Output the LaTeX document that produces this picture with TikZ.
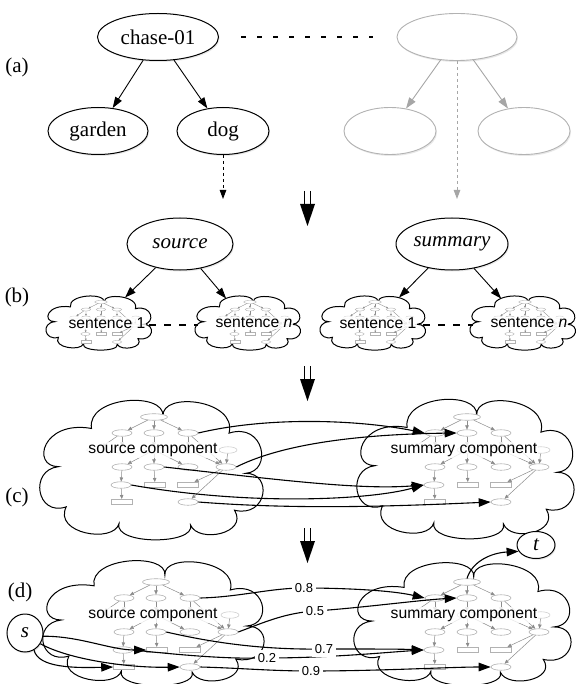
\documentclass[tikz,border=0pt]{standalone}
\usepackage{fontspec}
\setmainfont{Liberation Serif}
\setsansfont{Liberation Sans}
\usetikzlibrary{shapes.geometric,arrows.meta,shadows}

\tikzset{
  soft/.style={drop shadow={opacity=0.18, shadow xshift=1pt, shadow yshift=-1.5pt}},
  amrnode/.style={ellipse, draw, line width=1pt, fill=white, inner sep=0pt,
    font=\fontsize{21}{25}\selectfont, soft},
  ghost/.style={ellipse, draw=black!30, line width=0.9pt, fill=white, inner sep=0pt, soft},
  arr/.style={line width=0.9pt, -{Triangle[length=11pt,width=7.5pt]}},
  garr/.style={draw=black!35, line width=0.9pt, -{Triangle[length=11pt,width=7.5pt, fill=black!35]}},
  bigarr/.style={line width=1.1pt, -{Triangle[length=12pt,width=8.5pt]}},
  cloudline/.style={draw, line width=1pt, fill=white},
  comp/.style={font=\sffamily\fontsize{15.7}{18}\selectfont, fill=white, fill opacity=0.8,
    text opacity=1, inner sep=1pt},
  lbl/.style={font=\sffamily\fontsize{13}{15}\selectfont, fill=white, inner sep=3pt},
  tag/.style={font=\fontsize{21}{25}\selectfont},
  mnode/.style={ellipse, draw=black!30, line width=0.6pt, fill=white,
    minimum width=20pt, minimum height=6.5pt, inner sep=0pt},
  mrect/.style={rectangle, draw=black!30, line width=0.6pt, fill=white,
    minimum width=21pt, minimum height=5.5pt, inner sep=0pt},
  marr/.style={draw=black!45, line width=0.5pt, -{Triangle[length=4pt,width=3.5pt]}},
  smallgraph/.style={scale=0.47, transform shape,
    marr/.style={draw=black!45, line width=0.35pt, -{Triangle[length=2pt,width=1.8pt]}},
    mnode/.append style={line width=0.4pt}, mrect/.append style={line width=0.4pt}},
  % cloud outline in a unit box (x and y from -1 to 1, y pointing down)
  puffcloud/.pic={
    \path[cloudline] (-0.85,-0.05)
      .. controls (-1.10,-0.05) and (-1.00,-0.75) .. (-0.55,-0.62)
      .. controls (-0.60,-1.10) and (0.12,-1.18) .. (0.10,-0.80)
      .. controls (0.08,-1.18) and (0.78,-1.05) .. (0.70,-0.55)
      .. controls (1.02,-0.72) and (1.10,0.02) .. (0.85,0.05)
      .. controls (1.10,0.04) and (1.05,0.72) .. (0.75,0.60)
      .. controls (0.88,0.95) and (0.42,1.10) .. (0.35,0.82)
      .. controls (0.40,1.12) and (-0.35,1.12) .. (-0.30,0.80)
      .. controls (-0.35,1.10) and (-0.90,0.95) .. (-0.78,0.55)
      .. controls (-1.05,0.70) and (-1.12,0.00) .. (-0.85,-0.05) -- cycle;
    \coordinate (-ne) at (0.50,-0.98);
    \coordinate (-nw) at (-0.42,-0.94);
    \coordinate (-e) at (0.85,0.08);
    \coordinate (-w) at (-0.85,0.08);
  },
  % small AMR graph drawn inside every cloud
  amr/.pic={
    \node[mnode, minimum width=27pt] (-T) at (0,0) {};
    \node[mnode] (-A) at (-32,16) {};
    \node[mnode] (-B) at (0,16) {};
    \node[mnode] (-C) at (34,16) {};
    \node[mnode, draw=black!15] (-L) at (-57,33) {};
    \node[mnode] (-M1) at (-32,33) {};
    \node[mnode] (-M2) at (0,33) {};
    \node[mnode] (-M3) at (34,33) {};
    \node[mnode, draw=black!18, minimum width=18pt] (-R) at (74,33) {};
    \node[mnode] (-D1) at (-32,50) {};
    \node[mnode] (-D2) at (0,50) {};
    \node[mnode] (-D3) at (34,50) {};
    \node[mnode] (-D4) at (72,50) {};
    \node[mnode] (-E1) at (-33,68) {};
    \node[mrect] (-E2) at (1,68) {};
    \node[mrect] (-E3) at (34,68) {};
    \node[mrect] (-F1) at (-32,85) {};
    \node[mnode] (-F2) at (34,85) {};
    \foreach \a/\b in {T/A,T/B,T/C,A/L,A/M1,B/M2,C/M3,C/D4,M3/D4,R/D4,M2/D1,M2/D2,M2/D3,
                       D1/E1,D2/E2,D4/E3,D4/F2,E1/F1}
      \draw[marr] (-\a) -- (-\b);
  },
  % double-shaft arrow between the stages
  dblarrow/.pic={
    \draw[line width=1.2pt] (-3.2,0) -- (-3.2,14) (3.2,0) -- (3.2,14);
    \fill (-7.5,13) -- (7.5,13) -- (0,35) -- cycle;
  }
}

\begin{document}
\begin{tikzpicture}[x=1pt, y=-1pt]
\useasboundingbox (0,0) rectangle (576,684);

% ---------- (a) ----------
\node[tag] (la) at (17,67) {(a)};
\node[amrnode, minimum width=121pt, minimum height=47pt] (chase) at (158,37) {chase-01};
\node[amrnode, minimum width=100pt, minimum height=47pt] (garden) at (98,131) {garden};
\node[amrnode, minimum width=92pt, minimum height=47pt] (dog) at (223,131) {dog};
\node[ghost, minimum width=120pt, minimum height=47pt] (g0) at (457,37) {};
\node[ghost, minimum width=92pt, minimum height=47pt] (g1) at (390,131) {};
\node[ghost, minimum width=92pt, minimum height=47pt] (g2) at (524,131) {};
\draw[arr] (chase) -- (garden);
\draw[arr] (chase) -- (dog);
\draw[garr] (g0) -- (g1);
\draw[garr] (g0) -- (g2);
\draw[line width=2.2pt, dash pattern=on 4.5pt off 11.5pt, shorten <=22pt, shorten >=24pt]
  (chase) -- (g0);
\coordinate (dogend) at (223,199);
\coordinate (gend) at (457,199);
\draw[arr, dashed, -{Triangle[length=9pt,width=6.5pt]}] (dog.south) -- (dogend);
\draw[garr, dashed, -{Triangle[length=9pt,width=6.5pt, fill=black!35]}] (g0.south) -- (gend);

\pic at (307.5,191) {dblarrow};

% ---------- (b) ----------
\node[tag] (lb) at (17,297) {(b)};
\node[amrnode, font=\itshape\fontsize{21}{25}\selectfont, minimum width=106pt, minimum height=52pt]
  (src) at (180,244) {source};
\node[amrnode, font=\itshape\fontsize{21}{25}\selectfont, minimum width=112pt, minimum height=52pt]
  (summ) at (452,244) {summary};

\pic[xscale=52, yscale=26] (s1) at (99,323) {puffcloud};
\pic[xscale=52, yscale=26] (sn) at (248,323) {puffcloud};
\pic[xscale=52, yscale=26] (t1) at (373,323) {puffcloud};
\pic[xscale=52, yscale=26] (tn) at (523,323) {puffcloud};
\pic[smallgraph] (s1g) at (101,302) {amr};
\pic[smallgraph] (sng) at (250,302) {amr};
\pic[smallgraph] (t1g) at (375,302) {amr};
\pic[smallgraph] (tng) at (525,302) {amr};
\node[comp] (s1txt) at (107,323) {sentence 1};
\node[comp] (sntxt) at (254,323) {sentence \textit{n}};
\node[comp] (t1txt) at (378,323) {sentence 1};
\node[comp] (tntxt) at (529,323) {sentence \textit{n}};

\draw[arr] (src) -- (s1-ne);
\draw[arr] (src) -- (sn-nw);
\draw[arr] (summ) -- (t1-ne);
\draw[arr] (summ) -- (tn-nw);
\draw[line width=1.6pt, dash pattern=on 7pt off 8pt, shorten <=6pt, shorten >=6pt] (s1-e) -- (sn-w);
\draw[line width=1.6pt, dash pattern=on 7pt off 8pt, shorten <=6pt, shorten >=6pt] (t1-e) -- (tn-w);

\pic at (307.5,366) {dblarrow};

% ---------- (c) ----------
\node[tag] (lc) at (17,497) {(c)};
\pic[xscale=110, yscale=67] (cl) at (152,470) {puffcloud};
\pic[xscale=107, yscale=67] (cr) at (466,469) {puffcloud};
\pic (csrc) at (154,417) {amr};
\pic (csum) at (467,417) {amr};
\node[comp] (ctl) at (153,450) {source component};
\node[comp] (ctr) at (464,450) {summary component};

\draw[bigarr] (csrc-C.east) .. controls (270,416) and (360,420) .. (csum-A.west);
\draw[bigarr] (csrc-D4.east) .. controls (290,440) and (380,434) .. (csum-B.west);
\draw[bigarr] (csrc-D2.east) .. controls (280,480) and (360,490) .. (csum-E1.west);
\draw[bigarr] (csrc-E1.east) .. controls (250,506) and (370,500) .. (csum-E1.west);
\draw[bigarr] (csrc-F2.east) .. controls (300,510) and (400,506) .. (csum-F2.west);

\pic at (307.5,528) {dblarrow};

% ---------- (d) ----------
\node[tag] (ld) at (20,592) {(d)};
\pic[xscale=109, yscale=60] (dl) at (154,623) {puffcloud};
\pic[xscale=107, yscale=59] (dr) at (463,624) {puffcloud};
\pic (dsrc) at (156,582) {amr};
\pic (dsum) at (467,582) {amr};
\node[comp] (dtl) at (153,615) {source component};
\node[comp] (dtr) at (464,615) {summary component};

\node[amrnode, font=\itshape\fontsize{21}{25}\selectfont, minimum width=36pt, minimum height=38pt] (s) at (25,633) {s};
\node[amrnode, font=\itshape\fontsize{21}{25}\selectfont, minimum width=38pt, minimum height=27pt] (t) at (536,545) {t};

\coordinate (l08) at (304,588);
\coordinate (l05) at (315,611);
\coordinate (l07) at (324,649);
\coordinate (l02) at (267,658);
\coordinate (l09) at (311,671);

\draw[bigarr] (dsrc-C.east) .. controls (240,597) and (270,588) .. (l08)
  .. controls (340,588) and (390,590) .. (dsum-A.west);
\draw[bigarr] (dsrc-D4.east) .. controls (265,622) and (285,613) .. (l05)
  .. controls (360,608) and (420,600) .. (dsum-B.west);
\draw[bigarr] (dsrc-D2.east) .. controls (210,642) and (260,650) .. (l07)
  .. controls (370,649) and (400,649) .. (dsum-E1.west);
\draw[bigarr] (dsrc-E1.east) .. controls (190,656) and (230,659) .. (l02)
  .. controls (330,658) and (390,652) .. (dsum-E1.west);
\draw[bigarr] (dsrc-F2.east) .. controls (240,668) and (270,671) .. (l09)
  .. controls (380,671) and (450,667) .. (dsum-F2.west);

\draw[bigarr] (s.-10) .. controls (80,636) and (110,650) .. (dsrc-E2.west);
\draw[bigarr] (s.-35) .. controls (70,660) and (130,668) .. (dsrc-F2.west);
\draw[bigarr] (s.-62) .. controls (38,668) and (75,668) .. (dsrc-F1.west);
\draw[bigarr] (dsum-T.north) .. controls (472,562) and (490,553) .. (t.200);

\node[lbl] at (l08) {0.8};
\node[lbl] at (l05) {0.5};
\node[lbl] at (l07) {0.7};
\node[lbl] at (l02) {0.2};
\node[lbl] at (l09) {0.9};
\end{tikzpicture}
\end{document}
